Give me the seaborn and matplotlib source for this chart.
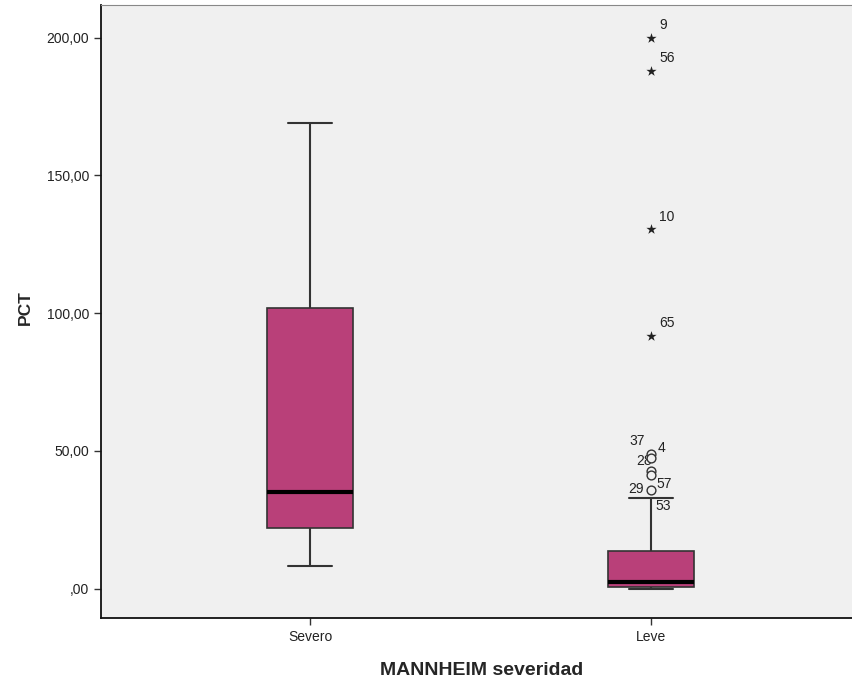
import matplotlib
matplotlib.use("Agg")
import matplotlib.pyplot as plt
import seaborn as sns
import pandas as pd
import numpy as np

# Data: five-number summaries
categories = ["Severo", "Leve"]
box_min = [8.3, 0.0]
box_q1 = [21.8, 0.7]
box_median = [35.2, 2.2]
box_q3 = [102.0, 13.8]
box_max = [168.8, 33.0]

# Outliers (Leve group)
extreme_values = [200.0, 188.0, 130.5, 91.8]
extreme_labels = ["9", "56", "10", "65"]
outlier_values = [49.0, 47.3, 42.8, 41.2, 35.6]

# Case labels for the mild outliers and the value each one is attached to
case_labels = ["37", "4", "28", "57", "29", "53"]
case_anchor_values = [49.0, 49.0, 47.3, 41.2, 35.6, 33.0]
# label offsets (pixels) from the anchor point
case_offsets = [(-14, 13), (11, 6), (-7, -3), (13, -8.5), (-15, 1), (12, -8)]

yticks = [0, 50, 100, 150, 200]
ytick_labels = [",00", "50,00", "100,00", "150,00", "200,00"]

rows = []
for c, a, b, m, d, e in zip(categories, box_min, box_q1, box_median, box_q3, box_max):
    for v in (a, b, m, d, e):
        rows.append({"grp": c, "val": v})
df = pd.DataFrame(rows)

sns.set_style("white")
plt.rcParams["font.family"] = ["Liberation Sans", "DejaVu Sans"]

fig = plt.figure(figsize=(8.52, 6.83), dpi=100)
ax = fig.add_axes([101 / 852, 1 - 618 / 683, (860 - 101) / 852, (618 - 5) / 683])
ax.set_facecolor("#F0F0F0")

sns.boxplot(data=df, x="grp", y="val", order=categories, ax=ax, whis=(0, 100),
            width=0.25, color="#B94079", saturation=1, showfliers=False,
            boxprops=dict(edgecolor="#333333", linewidth=1.2),
            whiskerprops=dict(color="#333333", linewidth=1.5),
            capprops=dict(color="#333333", linewidth=1.5),
            medianprops=dict(color="black", linewidth=3),
            capwidths=0.13)

leve = categories.index("Leve")

for v, lab, off in zip(case_anchor_values, case_labels, case_offsets):
    ax.annotate(lab, (leve, v), xytext=off, textcoords="offset pixels",
                ha="center", va="center", fontsize=10, color="#222222", zorder=4)

ax.scatter([leve] * len(extreme_values), extreme_values, marker="*", s=60,
           color="#222222", zorder=5, linewidths=0)
ax.scatter([leve] * len(outlier_values), outlier_values, marker="o", s=40,
           facecolors="#F0F0F0", edgecolors="#333333", linewidths=1.0, zorder=5)

for v, lab in zip(extreme_values, extreme_labels):
    ax.annotate(lab, (leve, v), xytext=(6, 6), textcoords="offset points",
                fontsize=10, color="#222222")

ax.set_xlim(-0.613, 1.613)
ax.set_ylim(-10.7, 211.8)
ax.set_yticks(yticks)
ax.set_yticklabels(ytick_labels, fontsize=10)
ax.tick_params(axis="both", direction="out", length=5, width=1, color="#333333",
               labelsize=10, labelcolor="#222222", left=True, bottom=True)
ax.set_xticklabels(categories, fontsize=10)
ax.set_xlabel("MANNHEIM severidad", fontsize=14, fontweight="bold", labelpad=13)
ax.xaxis.label.set_x((482 - 101) / 759)
ax.set_ylabel("PCT", fontsize=12.5, fontweight="bold", labelpad=10)
ax.yaxis.label.set_y((618 - 308) / 613)

for side in ["left", "bottom"]:
    ax.spines[side].set_color("#111111")
    ax.spines[side].set_linewidth(1.3)
ax.spines["top"].set_color("#888888")
ax.spines["right"].set_color("#888888")

fig.savefig("out.png", dpi=100, facecolor="white")
